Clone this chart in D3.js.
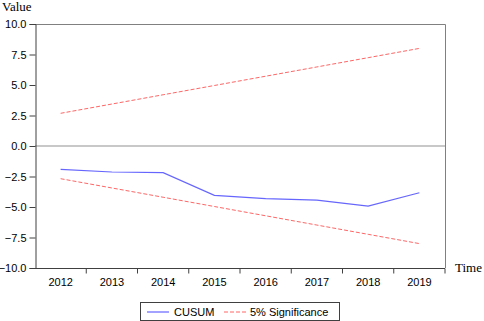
<!DOCTYPE html>
<html>
<head>
<meta charset="utf-8">
<script src="https://cdn.jsdelivr.net/npm/d3@7"></script>
<style>
  body { margin: 0; background: #fff; }
  svg text { font-family: Arial, "Liberation Sans", sans-serif; }
</style>
</head>
<body>
<div id="chart"></div>
<script>
const years = ["2012", "2013", "2014", "2015", "2016", "2017", "2018", "2019"];
const cusum = [-1.91, -2.13, -2.19, -4.04, -4.32, -4.43, -4.92, -3.83];
const upper = [2.68, 3.44, 4.2, 4.96, 5.72, 6.48, 7.24, 8.0];
const lower = [-2.68, -3.44, -4.2, -4.96, -5.72, -6.48, -7.24, -8.0];
const yTicks = [10, 7.5, 5, 2.5, 0, -2.5, -5, -7.5, -10];

const width = 484;
const height = 321;
const plotLeft = 35, plotRight = 445, plotTop = 24, plotBottom = 268;

const svg = d3.select("#chart")
  .append("svg")
  .attr("width", width)
  .attr("height", height);

const x = d3.scaleBand().domain(years).range([plotLeft, plotRight]);
const y = d3.scaleLinear().domain([-10, 10]).range([plotBottom, plotTop]);
const cx = d => x(d) + x.bandwidth() / 2;

// frame top & right
svg.append("path")
  .attr("d", `M${plotLeft},${plotTop + 0.5}H${plotRight + 0.5}V${plotBottom}`)
  .attr("fill", "none")
  .attr("stroke", "#808080")
  .attr("stroke-width", 1);

// zero line
svg.append("line")
  .attr("x1", plotLeft).attr("x2", plotRight)
  .attr("y1", y(0)).attr("y2", y(0))
  .attr("stroke", "#c8c8c8")
  .attr("stroke-width", 2);

// y axis
const yAxis = svg.append("g")
  .attr("transform", `translate(${plotLeft + 0.5},0)`)
  .call(d3.axisLeft(y).tickValues(yTicks).tickFormat(d3.format(".1f")).tickSize(6).tickPadding(3));
yAxis.select(".domain").attr("stroke", "#404040");
yAxis.selectAll(".tick line").attr("stroke", "#404040");
yAxis.selectAll("text").attr("font-size", 11).attr("fill", "#000");

// x axis: ticks at band boundaries
const xAxis = svg.append("g")
  .attr("transform", `translate(0,${plotBottom + 0.5})`)
  .call(d3.axisBottom(x).tickSize(0).tickPadding(10));
xAxis.select(".domain").attr("d", `M${plotLeft},0H${plotRight}`).attr("stroke", "#404040");
xAxis.selectAll("text").attr("font-size", 11).attr("fill", "#000");
xAxis.selectAll(".bnd")
  .data(years)
  .join("line")
  .attr("class", "bnd")
  .attr("x1", d => x(d) + x.bandwidth())
  .attr("x2", d => x(d) + x.bandwidth())
  .attr("y1", 0).attr("y2", 5)
  .attr("stroke", "#404040");

const line = d3.line().x((d, i) => cx(years[i])).y(d => y(d));

svg.append("path").datum(upper)
  .attr("d", line).attr("fill", "none")
  .attr("stroke", "#ff6666").attr("stroke-width", 1).attr("stroke-dasharray", "4,2");
svg.append("path").datum(lower)
  .attr("d", line).attr("fill", "none")
  .attr("stroke", "#ff6666").attr("stroke-width", 1).attr("stroke-dasharray", "4,2");
svg.append("path").datum(cusum)
  .attr("d", line).attr("fill", "none")
  .attr("stroke", "#6666ff").attr("stroke-width", 1.2);

// axis titles
svg.append("text")
  .attr("x", 2).attr("y", 11)
  .style("font-family", "'Liberation Serif', 'Times New Roman', serif")
  .attr("font-size", 13)
  .text("Value");
svg.append("text")
  .attr("x", 455).attr("y", 272)
  .style("font-family", "'Liberation Serif', 'Times New Roman', serif")
  .attr("font-size", 13)
  .text("Time");

// legend
const legend = svg.append("g");
legend.append("rect")
  .attr("x", 140.5).attr("y", 302.5)
  .attr("width", 199).attr("height", 18)
  .attr("fill", "#fff").attr("stroke", "#404040");
legend.append("line")
  .attr("x1", 147).attr("x2", 169).attr("y1", 312).attr("y2", 312)
  .attr("stroke", "#6666ff").attr("stroke-width", 1.2);
legend.append("text")
  .attr("x", 174).attr("y", 316).attr("font-size", 11).text("CUSUM");
legend.append("line")
  .attr("x1", 224).attr("x2", 246).attr("y1", 312).attr("y2", 312)
  .attr("stroke", "#ff6666").attr("stroke-dasharray", "4,2");
legend.append("text")
  .attr("x", 250).attr("y", 316).attr("font-size", 11).text("5% Significance");
</script>
</body>
</html>
